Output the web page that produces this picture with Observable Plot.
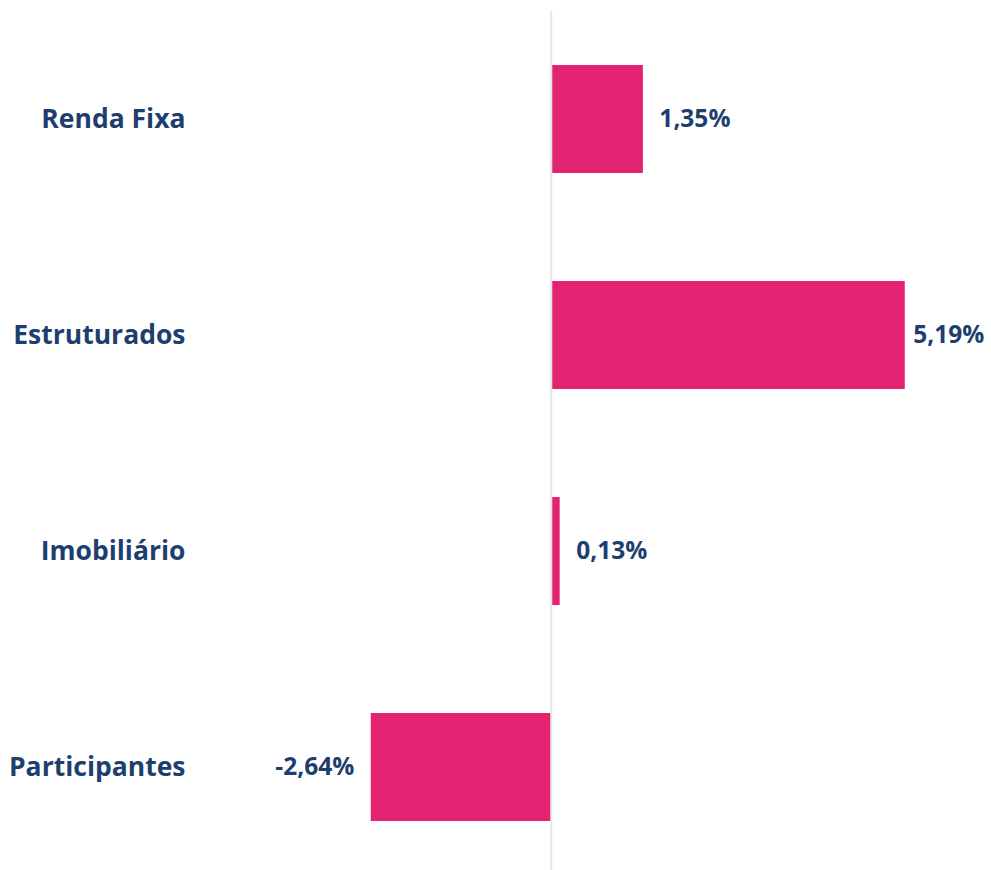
<!DOCTYPE html>
<html>
<head>
<meta charset="utf-8">
<script src="https://cdn.jsdelivr.net/npm/d3@7"></script>
<script src="https://cdn.jsdelivr.net/npm/@observablehq/plot@0.6"></script>
<style>
  html, body { margin: 0; padding: 0; background: #fff; }
  #chart svg { display: block; }
</style>
</head>
<body>
<div id="chart"></div>
<script>
const categories = ["Renda Fixa", "Estruturados", "Imobiliário", "Participantes"];
const values = [1.35, 5.19, 0.13, -2.64];

const data = categories.map((c, i) => ({category: c, value: values[i]}));
const fmt = v => d3.format(".2f")(v).replace(".", ",").replace("−", "-") + "%";

const navy = "#1d3f6e";
const pink = "#e32272";
const font = "Open Sans, Lato, sans-serif";
const labelStyle = {fontSize: 24.5, fontWeight: "bold", fill: navy};

const chart = Plot.plot({
  width: 991,
  height: 870,
  marginTop: 11,
  marginBottom: -5,
  marginLeft: 278,
  marginRight: 31,
  style: {fontFamily: font, background: "#fff"},
  x: {domain: [-4, 6], axis: null},
  y: {domain: categories, paddingInner: 0.5, paddingOuter: 0.25, label: null},
  marks: [
    Plot.axisY({
      tickSize: 0,
      tickPadding: 93,
      fontSize: 26.5,
      fontWeight: "bold",
      fill: navy,
      label: null
    }),
    Plot.barX(data, {x: "value", y: "category", fill: pink}),
    Plot.ruleX([0], {stroke: "#e6e6e6", strokeWidth: 2}),
    Plot.text(data.filter(d => d.value >= 0 && d.value < 5), {
      x: "value", y: "category", text: d => fmt(d.value),
      textAnchor: "start", dx: 16, ...labelStyle
    }),
    Plot.text(data.filter(d => d.value >= 5), {
      x: "value", y: "category", text: d => fmt(d.value),
      textAnchor: "start", dx: 8, ...labelStyle
    }),
    Plot.text(data.filter(d => d.value < 0), {
      x: "value", y: "category", text: d => fmt(d.value),
      textAnchor: "end", dx: -17, ...labelStyle
    })
  ]
});
document.getElementById("chart").appendChild(chart);
</script>
</body>
</html>
